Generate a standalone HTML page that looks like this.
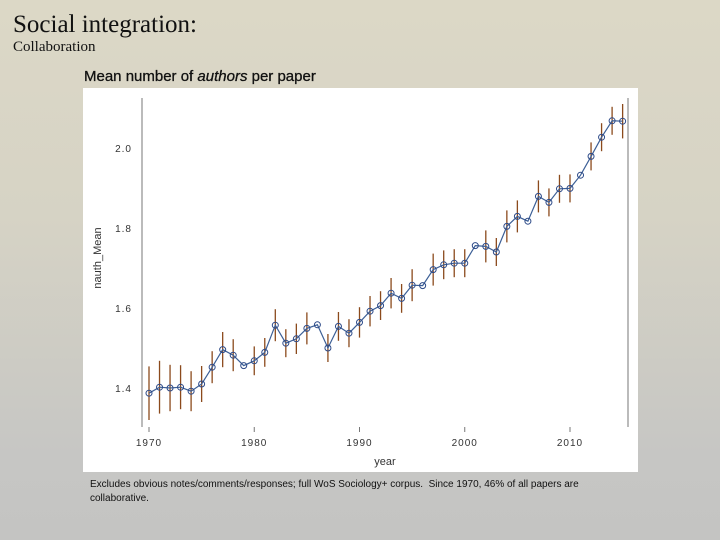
<!DOCTYPE html>
<html><head><meta charset="utf-8">
<style>
body{margin:0;width:720px;height:540px;overflow:hidden;background:linear-gradient(180deg,#dcd8c6 0%,#d6d3c5 40%,#c6c6c4 85%,#c4c4c2 100%);font-family:"Liberation Sans",sans-serif;position:relative}
.t{position:absolute;white-space:nowrap}
</style></head><body>
<div class="t" style="left:13px;top:11px;font-family:'Liberation Serif',serif;font-size:25px;color:#111">Social integration:</div>
<div class="t" style="left:13px;top:39px;font-family:'Liberation Serif',serif;font-size:15px;color:#111">Collaboration</div>
<div class="t" style="left:84px;top:68px;font-size:15px;color:#111;-webkit-text-stroke:0.3px #111">Mean number of <i>authors</i> per paper</div>
<svg style="position:absolute;left:0;top:0" width="720" height="540">
<rect x="83" y="88" width="555" height="384" fill="#fff"/>
<g id="g"></g>
</svg>
<div class="t" style="left:90px;top:478px;font-size:10px;line-height:14px;color:#111">Excludes obvious notes/comments/responses; full WoS Sociology+ corpus.&nbsp; Since 1970, 46% of all papers are<br>collaborative.</div>
<script>
const years=[1970,1971,1972,1973,1974,1975,1976,1977,1978,1979,1980,1981,1982,1983,1984,1985,1986,1987,1988,1989,1990,1991,1992,1993,1994,1995,1996,1997,1998,1999,2000,2001,2002,2003,2004,2005,2006,2007,2008,2009,2010,2011,2012,2013,2014,2015];
const means=[1.387,1.402,1.400,1.402,1.392,1.41,1.452,1.496,1.482,1.456,1.468,1.489,1.557,1.512,1.523,1.549,1.558,1.50,1.554,1.537,1.564,1.592,1.606,1.637,1.624,1.657,1.656,1.696,1.708,1.712,1.712,1.756,1.754,1.74,1.804,1.829,1.817,1.879,1.864,1.898,1.899,1.932,1.979,2.027,2.068,2.067];
const errs=[0.067,0.066,0.058,0.055,0.05,0.045,0.04,0.044,0.04,0.0,0.036,0.036,0.04,0.035,0.038,0.04,0.0,0.035,0.036,0.035,0.038,0.038,0.036,0.038,0.036,0.04,0.0,0.04,0.036,0.035,0.035,0.0,0.04,0.035,0.04,0.04,0.0,0.04,0.035,0.035,0.035,0.0,0.035,0.035,0.035,0.043];
const xTicks=[1970,1980,1990,2000,2010];
const yTicks=[1.4,1.6,1.8,2.0];
const yTickLabels=["1.4","1.6","1.8","2.0"];
const X=v=>149+(v-1970)*10.525;
const Y=v=>388-(v-1.4)*400;
const g=document.getElementById('g');
const NS='http://www.w3.org/2000/svg';
function mk(t,a){const e=document.createElementNS(NS,t);for(const k in a)e.setAttribute(k,a[k]);g.appendChild(e);return e;}
let e;
e=mk('line',{x1:142,y1:98,x2:142,y2:427,stroke:'#777','stroke-width':1});


e=mk('line',{x1:628,y1:98,x2:628,y2:427,stroke:'#777','stroke-width':1});


xTicks.forEach(v=>{
 e=mk('line',{x1:X(v),y1:427,x2:X(v),y2:432,stroke:'#777'});
 
 
 e=mk('text',{x:X(v),y:446,'text-anchor':'middle','font-size':10,fill:'#333','letter-spacing':1});
 e.textContent=v;
 
 
});
yTicks.forEach((v,i)=>{
 e=mk('text',{x:132,y:Y(v)+4,'text-anchor':'end','font-size':10,fill:'#333','letter-spacing':1});
 e.textContent=yTickLabels[i];
 
 
});
e=mk('text',{x:385,y:465,'text-anchor':'middle','font-size':11,fill:'#333'});
e.textContent='year';


e=mk('text',{x:0,y:0,'text-anchor':'middle','font-size':11,fill:'#333',transform:'translate(101,258) rotate(-90)'});
e.textContent='nauth_Mean';


years.forEach((y,i)=>{
 if(errs[i]>0){
  e=mk('line',{x1:X(y),y1:Y(means[i]+errs[i]),x2:X(y),y2:Y(means[i]-errs[i]),stroke:'#8b4a1c','stroke-width':1.3});
  
  
 }
});
e=mk('polyline',{points:years.map((y,i)=>X(y)+','+Y(means[i])).join(' '),fill:'none',stroke:'#3c5f96','stroke-width':1.2});


years.forEach((y,i)=>{
 e=mk('circle',{cx:X(y),cy:Y(means[i]),r:3,fill:'none',stroke:'#2d4a88','stroke-width':1});
 
 
});
</script>
</body></html>
